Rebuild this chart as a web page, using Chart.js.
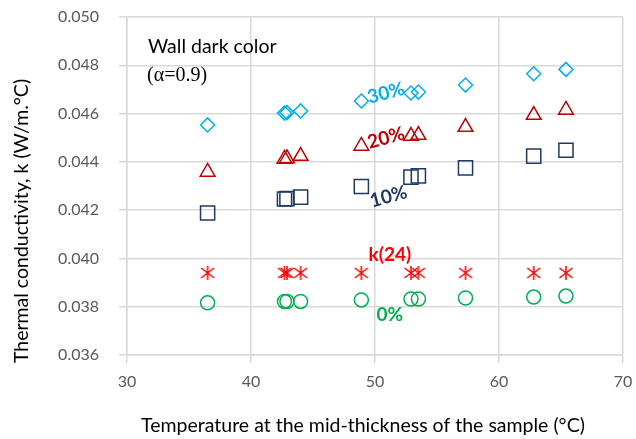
<!DOCTYPE html>
<html>
<head>
<meta charset="utf-8">
<script src="https://cdn.jsdelivr.net/npm/chart.js@4/dist/chart.umd.min.js"></script>
<style>
  html, body { margin: 0; padding: 0; background: #fff; }
  #wrap { width: 636px; height: 439px; }
</style>
</head>
<body>
<div id="wrap"><canvas id="chart" width="636" height="439"></canvas></div>
<script>
// Temperature (°C) at mid-thickness
const temps = [36.5, 42.7, 42.9, 44.0, 48.9, 52.9, 53.5, 57.3, 62.8, 65.4];

// Thermal conductivity k (W/m.°C)
const k30 = [0.04553, 0.04602, 0.04604, 0.04611, 0.04652, 0.04685, 0.04689, 0.04718, 0.04765, 0.04783];
const k20 = [0.04358, 0.04412, 0.04414, 0.04424, 0.04466, 0.04507, 0.04511, 0.04544, 0.04594, 0.04615];
const k10 = [0.04188, 0.04246, 0.04248, 0.04254, 0.04298, 0.04337, 0.04342, 0.04375, 0.04424, 0.04448];
const k24 = [0.03940, 0.03940, 0.03940, 0.03940, 0.03940, 0.03940, 0.03940, 0.03940, 0.03940, 0.03940];
const k0  = [0.03816, 0.03822, 0.03822, 0.03822, 0.03828, 0.03832, 0.03832, 0.03836, 0.03840, 0.03844];

const xTicks = [30, 40, 50, 60, 70];
const yTicks = [0.036, 0.038, 0.040, 0.042, 0.044, 0.046, 0.048, 0.050];

const xTitle = 'Temperature at the mid-thickness of the sample (°C)';
const yTitle = 'Thermal conductivity, k (W/m.°C)';

// Series labels placed in data space
const seriesLabels = [
    { text: '30%',   x: 50.9, y: 0.04685, color: '#00B0F0', angle: -15 },
    { text: '20%',   x: 50.9, y: 0.04499, color: '#C00000', angle: -15 },
    { text: '10%',   x: 51.1, y: 0.04256, color: '#1F3864', angle: -15 },
    { text: 'k(24)', x: 51.2, y: 0.04014, color: '#FF0000', angle: 0 },
    { text: '0%',    x: 51.2, y: 0.03768, color: '#00B050', angle: 0 },
];

const FONT = "Lato, 'Open Sans', sans-serif";

function pts(ys) {
    return temps.map((t, i) => ({ x: t, y: ys[i] }));
}

// asterisk marker: vertical stroke plus two diagonals
function asterisk(color) {
    const c = document.createElement('canvas');
    c.width = 18; c.height = 18;
    const g = c.getContext('2d');
    g.strokeStyle = color;
    g.lineWidth = 1.5;
    g.beginPath();
    g.moveTo(9, 2); g.lineTo(9, 16);
    g.moveTo(2.5, 4); g.lineTo(15.5, 14);
    g.moveTo(15.5, 4); g.lineTo(2.5, 14);
    g.stroke();
    return c;
}

const labelPlugin = {
    id: 'seriesLabels',
    afterDatasetsDraw(chart) {
        const { ctx, scales: { x, y } } = chart;
        ctx.save();
        seriesLabels.forEach(l => {
            ctx.save();
            ctx.translate(x.getPixelForValue(l.x), y.getPixelForValue(l.y));
            ctx.rotate(l.angle * Math.PI / 180);
            ctx.font = `bold 19px ${FONT}`;
            ctx.fillStyle = l.color;
            ctx.textAlign = 'center';
            ctx.textBaseline = 'middle';
            ctx.fillText(l.text, 0, 0);
            ctx.restore();
        });
        ctx.fillStyle = '#000';
        ctx.textAlign = 'left';
        ctx.textBaseline = 'middle';
        ctx.font = `19.5px ${FONT}`;
        ctx.fillText('Wall dark color', 148, 47);
        ctx.font = "20px 'Liberation Serif', serif";
        ctx.fillText('(\u03B1=0.9)', 147, 76);

        // axis titles
        ctx.textAlign = 'center';
        ctx.font = `19.5px ${FONT}`;
        ctx.fillText(xTitle, 363, 426);
        ctx.translate(22, 221);
        ctx.rotate(-Math.PI / 2);
        ctx.fillText(yTitle, 0, 0);
        ctx.restore();
    }
};

const common = { showLine: false, borderWidth: 1.5, backgroundColor: 'rgba(0,0,0,0)' };

new Chart(document.getElementById('chart'), {
    type: 'scatter',
    data: {
        datasets: [
            { ...common, label: '30%', data: pts(k30), pointStyle: 'rectRot', pointRadius: 7, borderColor: '#00B0F0' },
            { ...common, label: '20%', data: pts(k20), pointStyle: 'triangle', pointRadius: 8.5, borderColor: '#C00000' },
            { ...common, label: '10%', data: pts(k10), pointStyle: 'rect', pointRadius: 10, borderColor: '#1F3864' },
            { ...common, label: 'k(24)', data: pts(k24), pointStyle: asterisk('#FF0000'), borderColor: '#FF0000' },
            { ...common, label: '0%', data: pts(k0), pointStyle: 'circle', pointRadius: 7, borderColor: '#00B050' },
        ]
    },
    options: {
        responsive: false,
        animation: false,
        layout: { padding: { top: 17, right: 13, left: 0, bottom: 0 } },
        plugins: { legend: { display: false }, tooltip: { enabled: false } },
        scales: {
            x: {
                type: 'linear',
                min: 30, max: 70,
                afterBuildTicks: s => { s.ticks = xTicks.map(v => ({ value: v })); },
                afterFit: s => { s.height = 84; s.paddingLeft = 0; s.paddingRight = 0; },
                grid: { color: '#D9D9D9', lineWidth: 1.5, tickLength: 8 },
                border: { color: '#D9D9D9', width: 1.5 },
                ticks: { color: '#595959', font: { family: FONT, size: 16 }, padding: 9 }
            },
            y: {
                type: 'linear',
                min: 0.036, max: 0.050,
                afterBuildTicks: s => { s.ticks = yTicks.map(v => ({ value: v })); },
                afterFit: s => { s.width = 127; s.paddingTop = 0; s.paddingBottom = 0; },
                grid: { color: '#D9D9D9', lineWidth: 1.5, tickLength: 8 },
                border: { color: '#D9D9D9', width: 1.5 },
                ticks: {
                    color: '#595959',
                    font: { family: FONT, size: 16 },
                    padding: 20,
                    callback: v => v.toFixed(3)
                }
            }
        }
    },
    plugins: [labelPlugin]
});
</script>
</body>
</html>
